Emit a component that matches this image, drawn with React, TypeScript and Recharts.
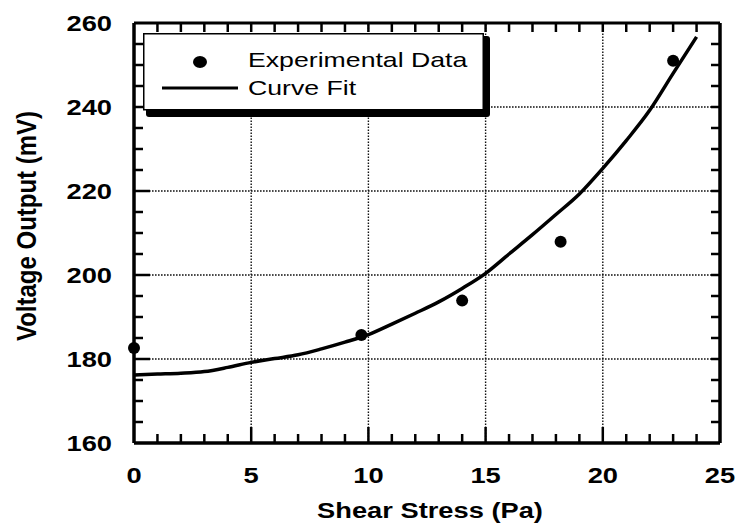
import React from 'react';
import {
  ComposedChart,
  Line,
  Scatter,
  XAxis,
  YAxis,
  ReferenceLine,
  Legend,
  Label,
} from 'recharts';

// Experimental data (Shear Stress Pa, Voltage mV)
const expX = [0, 9.7, 14.0, 18.2, 23.0];
const expY = [182.6, 185.7, 193.9, 207.9, 251.0];

// Curve fit
const fitX = [0, 1, 2, 3, 4, 5, 6, 7, 8, 9, 10, 11, 12, 13, 14, 15, 16, 17, 18, 19, 20, 21, 22, 23, 24];
const fitY = [
  176.2, 176.4, 176.6, 177.0, 178.0, 179.2, 180.1, 181.0, 182.4, 184.0, 185.8, 188.3, 190.9,
  193.6, 196.8, 200.4, 205.0, 209.6, 214.4, 219.3, 225.4, 232.0, 239.2, 248.0, 256.7,
];

// Axis ticks
const xTicks = [0, 1, 2, 3, 4, 5, 6, 7, 8, 9, 10, 11, 12, 13, 14, 15, 16, 17, 18, 19, 20, 21, 22, 23, 24, 25];
const xLabels = [0, 5, 10, 15, 20, 25];
const yTicks = [160, 165, 170, 175, 180, 185, 190, 195, 200, 205, 210, 215, 220, 225, 230, 235, 240, 245, 250, 255, 260];
const yLabels = [160, 180, 200, 220, 240, 260];
const xGrid = [5, 10, 15, 20];
const yGrid = [180, 200, 220, 240];
const seriesOrder = ['Experimental Data', 'Curve Fit'];

const expData = expX.map((x, i) => ({ x, exp: expY[i] }));
const fitData = fitX.map((x, i) => ({ x, fit: fitY[i] }));

const FONT = '"Liberation Sans", Arial, Helvetica, sans-serif';
const SX = 1.27;
const X_MIN = 0;
const X_MAX = 25;
const Y_MIN = 160;
const Y_MAX = 260;

// chart layout
const W = 740;
const H = 527;
const M = { top: 23, right: 20, bottom: 0, left: 0 };
const Y_AXIS_W = 134;
const X_AXIS_H = 84;
const PLOT_W = W - M.left - M.right - Y_AXIS_W;
const PLOT_H = H - M.top - M.bottom - X_AXIS_H;
const TICK_MINOR = 9;
const TICK_MAJOR = 16;

function BottomTick(props: any) {
  const { x, y, payload } = props;
  const v = Number(payload.value);
  const major = xLabels.includes(v);
  const inner = v > X_MIN && v < X_MAX;
  const top = y - PLOT_H;
  return (
    <g>
      {v === X_MIN ? <line x1={x} x2={x + PLOT_W} y1={top} y2={top} stroke="#000" strokeWidth={3} /> : null}
      {inner ? <line x1={x} x2={x} y1={y} y2={y - (major ? TICK_MAJOR : TICK_MINOR)} stroke="#000" strokeWidth={2.5} /> : null}
      {inner ? <line x1={x} x2={x} y1={top} y2={top + TICK_MINOR} stroke="#000" strokeWidth={2.5} /> : null}
      {major ? (
        <text
          transform={`translate(${x},${y + 40}) scale(${SX},1)`}
          textAnchor="middle"
          fontFamily={FONT}
          fontWeight="bold"
          fontSize={21.5}
          fill="#000"
        >
          {v}
        </text>
      ) : null}
    </g>
  );
}

function LeftTick(props: any) {
  const { x, y, payload } = props;
  const v = Number(payload.value);
  const major = yLabels.includes(v);
  const inner = v > Y_MIN && v < Y_MAX;
  const right = x + PLOT_W;
  return (
    <g>
      {v === Y_MIN ? <line x1={right} x2={right} y1={y} y2={y - PLOT_H} stroke="#000" strokeWidth={3.5} /> : null}
      {inner ? <line x1={x} x2={x + (major ? TICK_MAJOR : TICK_MINOR)} y1={y} y2={y} stroke="#000" strokeWidth={2.5} /> : null}
      {inner ? <line x1={right} x2={right - TICK_MINOR} y1={y} y2={y} stroke="#000" strokeWidth={2.5} /> : null}
      {major ? (
        <text
          transform={`translate(${x - 22},${y + 7.8}) scale(${SX},1)`}
          textAnchor="end"
          fontFamily={FONT}
          fontWeight="bold"
          fontSize={21.5}
          fill="#000"
        >
          {v}
        </text>
      ) : null}
    </g>
  );
}

function XTitle(props: any) {
  const vb = props.viewBox || { x: Y_AXIS_W, y: M.top + PLOT_H, width: PLOT_W, height: X_AXIS_H };
  const cx = vb.x + vb.width / 2 + 3;
  const cy = vb.y + 75;
  return (
    <text
      transform={`translate(${cx},${cy}) scale(1.24,1)`}
      textAnchor="middle"
      fontFamily={FONT}
      fontWeight="bold"
      fontSize={22}
      fill="#000"
    >
      Shear Stress (Pa)
    </text>
  );
}

function YTitle(props: any) {
  const vb = props.viewBox || { x: 0, y: M.top, width: Y_AXIS_W, height: PLOT_H };
  const cx = vb.x + 36;
  const cy = vb.y + vb.height / 2 - 7;
  return (
    <text
      transform={`translate(${cx},${cy}) rotate(-90) scale(1,1.15)`}
      textAnchor="middle"
      fontFamily={FONT}
      fontWeight="bold"
      fontSize={24}
      fill="#000"
    >
      Voltage Output (mV)
    </text>
  );
}

function LegendContent(props: any) {
  const payload = [...(props.payload || [])].sort(
    (a: any, b: any) => seriesOrder.indexOf(a.value) - seriesOrder.indexOf(b.value)
  );
  return (
    <svg width={347} height={84} style={{ display: 'block' }}>
      <rect x={3} y={3} width={344} height={81} rx={3} fill="#000" />
      <rect x={0.75} y={0.75} width={339.5} height={76} fill="#fff" stroke="#000" strokeWidth={1.5} />
      {payload.map((entry: any, i: number) => {
        const baseline = 34 + i * 28;
        const cy = baseline - 6;
        return (
          <g key={i}>
            {entry.type === 'circle' ? (
              <ellipse cx={57} cy={cy + 1} rx={7} ry={6} fill="#000" />
            ) : (
              <line x1={19} x2={95} y1={cy - 1} y2={cy - 1} stroke="#000" strokeWidth={3} />
            )}
            <text
              transform={`translate(105,${baseline}) scale(${SX},1)`}
              fontFamily={FONT}
              fontSize={21}
              fill="#000"
            >
              {entry.value}
            </text>
          </g>
        );
      })}
    </svg>
  );
}

const Dot = (p: any) => <circle cx={p.cx} cy={p.cy} r={6} fill="#000" />;

export default function App() {
  return (
    <div style={{ position: 'absolute', left: 0, top: 0, width: W, height: H, background: '#fff' }}>
      <ComposedChart width={W} height={H} margin={M}>
        <XAxis
          dataKey="x"
          type="number"
          domain={[X_MIN, X_MAX]}
          ticks={xTicks}
          interval={0}
          tickSize={0}
          tickMargin={0}
          tickLine={false}
          tick={BottomTick}
          height={X_AXIS_H}
          axisLine={{ stroke: '#000', strokeWidth: 3.5 }}
        >
          <Label content={XTitle} />
        </XAxis>
        <YAxis
          type="number"
          domain={[Y_MIN, Y_MAX]}
          ticks={yTicks}
          interval={0}
          tickSize={0}
          tickMargin={0}
          tickLine={false}
          tick={LeftTick}
          width={Y_AXIS_W}
          axisLine={{ stroke: '#000', strokeWidth: 3.5 }}
        >
          <Label content={YTitle} />
        </YAxis>

        {xGrid.map((v) => (
          <ReferenceLine key={'gx' + v} x={v} stroke="#111" strokeWidth={1.4} strokeDasharray="1.6 1.4" />
        ))}
        {yGrid.map((v) => (
          <ReferenceLine key={'gy' + v} y={v} stroke="#111" strokeWidth={1.4} strokeDasharray="1.6 1.4" />
        ))}

        <Scatter
          name="Experimental Data"
          data={expData}
          dataKey="exp"
          fill="#000"
          legendType="circle"
          shape={Dot}
          isAnimationActive={false}
        />
        <Line
          name="Curve Fit"
          data={fitData}
          dataKey="fit"
          type="monotone"
          stroke="#000"
          strokeWidth={3.5}
          dot={false}
          activeDot={false}
          legendType="line"
          isAnimationActive={false}
        />
        <Legend
          layout="horizontal"
          verticalAlign="middle"
          align="center"
          wrapperStyle={{ left: 143, top: 33, width: 347, height: 84 }}
          content={LegendContent}
        />
      </ComposedChart>
    </div>
  );
}
